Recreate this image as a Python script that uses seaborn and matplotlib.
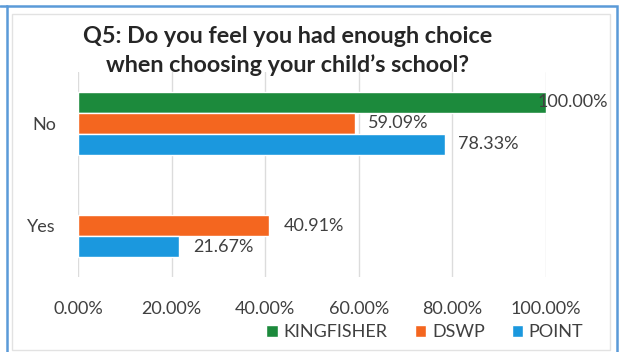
import matplotlib
matplotlib.use("Agg")
import matplotlib.pyplot as plt
import numpy as np
import pandas as pd
import seaborn as sns
from matplotlib.patches import Rectangle
from matplotlib.lines import Line2D
from matplotlib.ticker import PercentFormatter

# Values (percent of answers)
responses = ["No", "Yes"]
schools = ["KINGFISHER", "DSWP", "POINT"]
kingfisher = [100.00, np.nan]
dswp = [59.09, 40.91]
point = [78.33, 21.67]
colors = ["#1c8a3c", "#f4661f", "#1b98de"]

df = pd.DataFrame({
    "response": responses * 3,
    "school": ["KINGFISHER"] * 2 + ["DSWP"] * 2 + ["POINT"] * 2,
    "pct": kingfisher + dswp + point,
})

sns.set_theme(style="white")
plt.rcParams["font.family"] = ["Lato", "DejaVu Sans"]

fig = plt.figure(figsize=(6.27, 3.52), dpi=100)
ax = fig.add_axes([78 / 627, 1 - 277 / 352, 468 / 627, 205 / 352])

sns.barplot(data=df, x="pct", y="response", hue="school", hue_order=schools,
            order=responses, palette=colors, orient="h", width=0.615,
            errorbar=None, ax=ax, saturation=1)

# data labels; the 100% one sits over the bar end like in Excel
for cont, pad in zip(ax.containers, [-6, 10, 10]):
    ax.bar_label(cont, labels=[f"{v:.2f}%" if not np.isnan(v) else "" for v in cont.datavalues],
                 padding=pad, fontsize=13, color="#404040")

ax.set_xlim(0, 100)
ax.set_ylim(1.5, -0.5)
ax.set_xticks(np.arange(0, 101, 20))
ax.xaxis.set_major_formatter(PercentFormatter(xmax=100, decimals=2))
ax.grid(axis="x", color="#dcdcdc", linewidth=1)
ax.set_axisbelow(True)
for s in ax.spines.values():
    s.set_visible(False)
ax.tick_params(axis="x", length=0, pad=17, labelsize=13, labelcolor="#404040")
ax.tick_params(axis="y", length=0, pad=16, labelsize=13, labelcolor="#404040")
ax.set_xlabel("")
ax.set_ylabel("")

handles, labels = ax.get_legend_handles_labels()
ax.get_legend().remove()
fig.legend(handles, labels, loc="center", bbox_to_anchor=(425 / 627, 1 - 332 / 352),
           ncol=3, frameon=False, fontsize=13, handlelength=0.65, handleheight=0.65,
           handletextpad=0.3, columnspacing=1.5, labelcolor="#404040")

fig.text(288 / 627, 1 - 51 / 352, "Q5: Do you feel you had enough choice\nwhen choosing your child\u2019s school?",
         ha="center", va="center", fontsize=16.8, fontweight="bold", color="#262626",
         linespacing=1.38)

# chart area and outer frame
fig.patches.append(Rectangle((12 / 627, 2 / 352), 598 / 627, 336 / 352, transform=fig.transFigure,
                             fill=False, edgecolor="#e2e2e2", linewidth=1))
fig.patches.append(Rectangle((7 / 627, -0.05), 610 / 627, 1.05 - 6 / 352, transform=fig.transFigure,
                             fill=False, edgecolor="#5b9ad8", linewidth=1.8))
fig.lines.append(Line2D([0, 7 / 627], [1 - 6 / 352] * 2, transform=fig.transFigure,
                        color="#5b9ad8", linewidth=1.8))

fig.savefig("out.png", dpi=100)
